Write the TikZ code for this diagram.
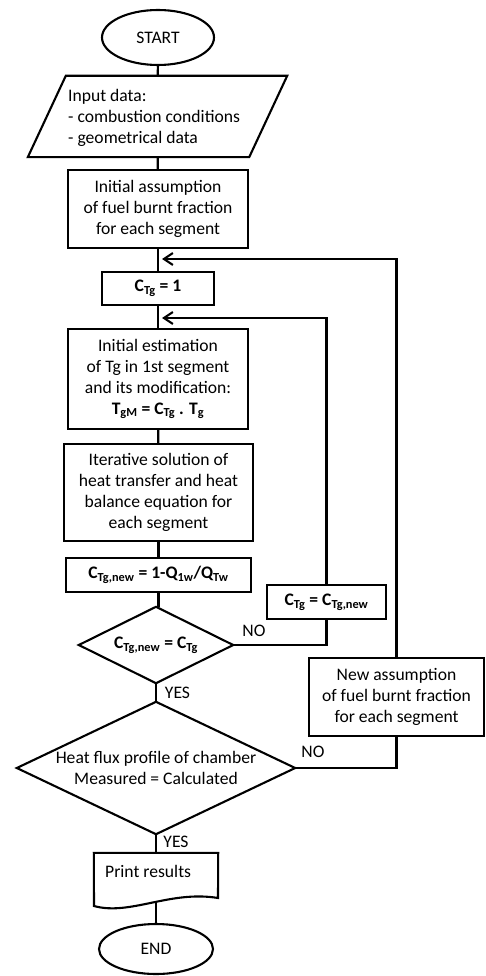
\documentclass[tikz,border=0pt]{standalone}
\usepackage{fontspec}
\setmainfont{Carlito}
\usetikzlibrary{arrows.meta,shapes.geometric,calc}
\newcommand\sbs[1]{\textsubscript{#1}}
\newcommand\fsz{\fontsize{17.6}{21}\selectfont}
\begin{document}
\begin{tikzpicture}[x=1pt,y=-1pt,
  conn/.style={line width=2.1pt},
  arr/.style={conn,-{Straight Barb[length=9pt,width=12pt,line width=2.1pt]}},
  box/.style={draw,line width=2.1pt,rectangle,inner sep=0pt,align=center,font=\fsz},
  term/.style={draw,line width=2.1pt,ellipse,inner sep=0pt,font=\fsz},
  plain/.style={inner sep=0pt,align=center,font=\fsz}]
\useasboundingbox (0,0) rectangle (485,976);

% terminals
\node[term,minimum width=112pt,minimum height=55pt] (start) at (158,37.5) {START};
\node[term,minimum width=114pt,minimum height=50pt] (end) at (156,949) {END};

% input parallelogram
\node[plain,minimum width=259pt,minimum height=81pt] (input) at (157.5,116.5) {};
\draw[conn] (input.south west) -- ($(input.north west)+(38,0)$) -- (input.north east)
  -- ($(input.south east)+(-38,0)$) -- cycle;
\node[plain,anchor=west,align=left] (inputtxt) at (68,118) {Input data:\\- combustion conditions\\- geometrical data};

% process boxes
\node[box,minimum width=180pt,minimum height=78pt] (assume) at (158,209)
  {Initial assumption\\of fuel burnt fraction\\for each segment};
\node[box,minimum width=112pt,minimum height=33pt] (c1) at (158,288.5)
  {\bfseries C\sbs{Tg} = 1};
\node[box,minimum width=180pt,minimum height=100pt] (est) at (158,379)
  {Initial estimation\\of Tg in 1st segment\\and its modification:\\\textbf{T\sbs{gM} = C\sbs{Tg} . T\sbs{g}}};
\node[box,minimum width=189pt,minimum height=97pt] (iter) at (158.5,492.5)
  {Iterative solution of\\heat transfer and heat\\balance equation for\\each segment};
\node[box,minimum width=185pt,minimum height=34pt] (cnew) at (158.5,575)
  {\bfseries C\sbs{Tg,new} = 1-Q\sbs{1w}/Q\sbs{Tw}};
\node[box,minimum width=119pt,minimum height=34pt] (upd) at (326.5,602)
  {\bfseries C\sbs{Tg} = C\sbs{Tg,new}};
\node[box,minimum width=175pt,minimum height=78pt] (newass) at (396.5,697)
  {New assumption\\of fuel burnt fraction\\for each segment};

% decisions
\node[plain,minimum width=154pt,minimum height=76pt] (d1) at (156,645)
  {\bfseries C\sbs{Tg,new} = C\sbs{Tg}};
\draw[conn] (d1.north) -- (d1.east) -- (d1.south) -- (d1.west) -- cycle;
\node[plain,minimum width=278pt,minimum height=132pt] (d2) at (156,768)
  {Heat flux profile of chamber\\Measured = Calculated};
\draw[conn] (d2.north) -- (d2.east) -- (d2.south) -- (d2.west) -- cycle;

% print document
\node[plain,minimum width=124pt,minimum height=53pt] (print) at (156,879.5) {};
\draw[conn] (218,898) -- (print.north east) -- (print.north west) -- (94,906)
  .. controls (130,916) and (170,890) .. (218,898) -- cycle;
\node[plain,anchor=base west] (printtxt) at (105,877) {Print results};
\coordinate (pbot) at (156,903);

% junction points
\coordinate (j1) at (162,259);
\coordinate (j2) at (162,318);

% main flow
\draw[conn] (start) -- (input);
\draw[conn] (input) -- (assume);
\draw[conn] (assume) -- (c1);
\draw[conn] (c1) -- (est);
\draw[conn] (est) -- (iter);
\draw[conn] (iter) -- (cnew);
\draw[conn] (cnew.south) -- (cnew.south |- d1.north);
\draw[conn] (d1.south) -- (d2.north);
\draw[conn] (d2.south) -- (print.north);
\draw[conn] (pbot) -- (end);

% loops
\draw[conn] (d1.east) -| (upd.south);
\draw[arr] (upd.north) |- (j2);
\draw[conn] (d2.east) -| (newass.south);
\draw[arr] (newass.north) |- (j1);

% labels
\node[plain] (no1) at (254,631) {NO};
\node[plain] (no2) at (313,752) {NO};
\node[plain] (yes1) at (177.5,693) {YES};
\node[plain] (yes2) at (176,842) {YES};
\end{tikzpicture}
\end{document}
